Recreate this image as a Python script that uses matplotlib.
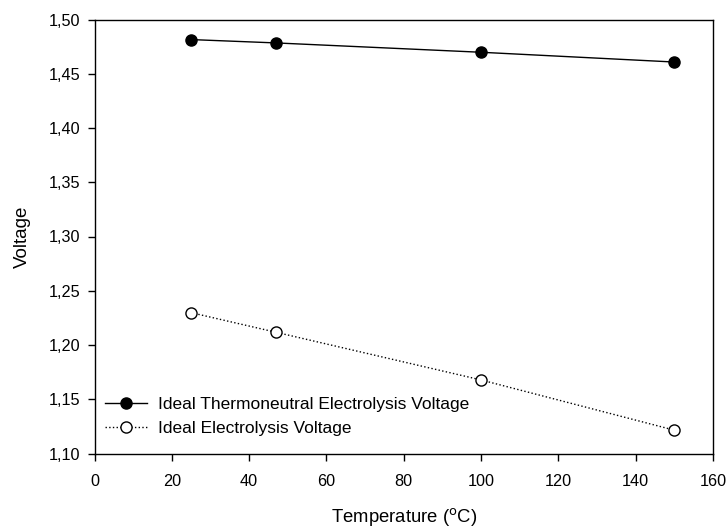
import matplotlib
matplotlib.use("Agg")
import matplotlib.pyplot as plt
from matplotlib.ticker import FuncFormatter

temperature = [25, 47, 100, 150]
thermoneutral_voltage = [1.4815, 1.4784, 1.4698, 1.4608]
electrolysis_voltage = [1.2298, 1.2117, 1.1678, 1.1215]
series_labels = ["Ideal Thermoneutral Electrolysis Voltage", "Ideal Electrolysis Voltage"]
x_ticks = [0, 20, 40, 60, 80, 100, 120, 140, 160]
y_ticks = [1.10, 1.15, 1.20, 1.25, 1.30, 1.35, 1.40, 1.45, 1.50]

plt.rcParams['font.family'] = ['Liberation Sans', 'DejaVu Sans']

fig = plt.figure(figsize=(7.27, 5.29), dpi=100)
W, H = 727, 529
left, right, top, bottom = 94.5, 713, 19.5, 453.5
ax = fig.add_axes([left / W, 1 - bottom / H, (right - left) / W, (bottom - top) / H])

ax.plot(temperature, thermoneutral_voltage, '-', color='black', lw=1.0,
        marker='o', markersize=8, markerfacecolor='black', markeredgecolor='black',
        label=series_labels[0])
ax.plot(temperature, electrolysis_voltage, ':', color='black', lw=1.0,
        marker='o', markersize=8, markerfacecolor='white', markeredgecolor='black',
        markeredgewidth=1.0, label=series_labels[1])

ax.set_xlim(0, 160)
ax.set_ylim(1.10, 1.50)
ax.set_xticks(x_ticks)
ax.set_yticks(y_ticks)
ax.yaxis.set_major_formatter(FuncFormatter(lambda v, p: f"{v:.2f}".replace('.', ',')))
ax.tick_params(direction='out', length=4.7, width=1.0, labelsize=11.7, colors='black')
ax.tick_params(axis='x', pad=10)
ax.tick_params(axis='y', pad=5.5)
for s in ax.spines.values():
    s.set_linewidth(1.0)

ax.set_xlabel(r'Temperature ($^{\mathrm{o}}$C)', fontsize=13.3, labelpad=12.5)
ax.set_ylabel('Voltage', fontsize=13.5, labelpad=13)

leg = ax.legend(loc='lower left', bbox_to_anchor=(0.017, 0.04), frameon=False,
                fontsize=12.5, handlelength=2.4, handletextpad=0.63, labelspacing=0.49,
                borderaxespad=0.0, borderpad=0.0)

fig.savefig('out.png', dpi=100)
